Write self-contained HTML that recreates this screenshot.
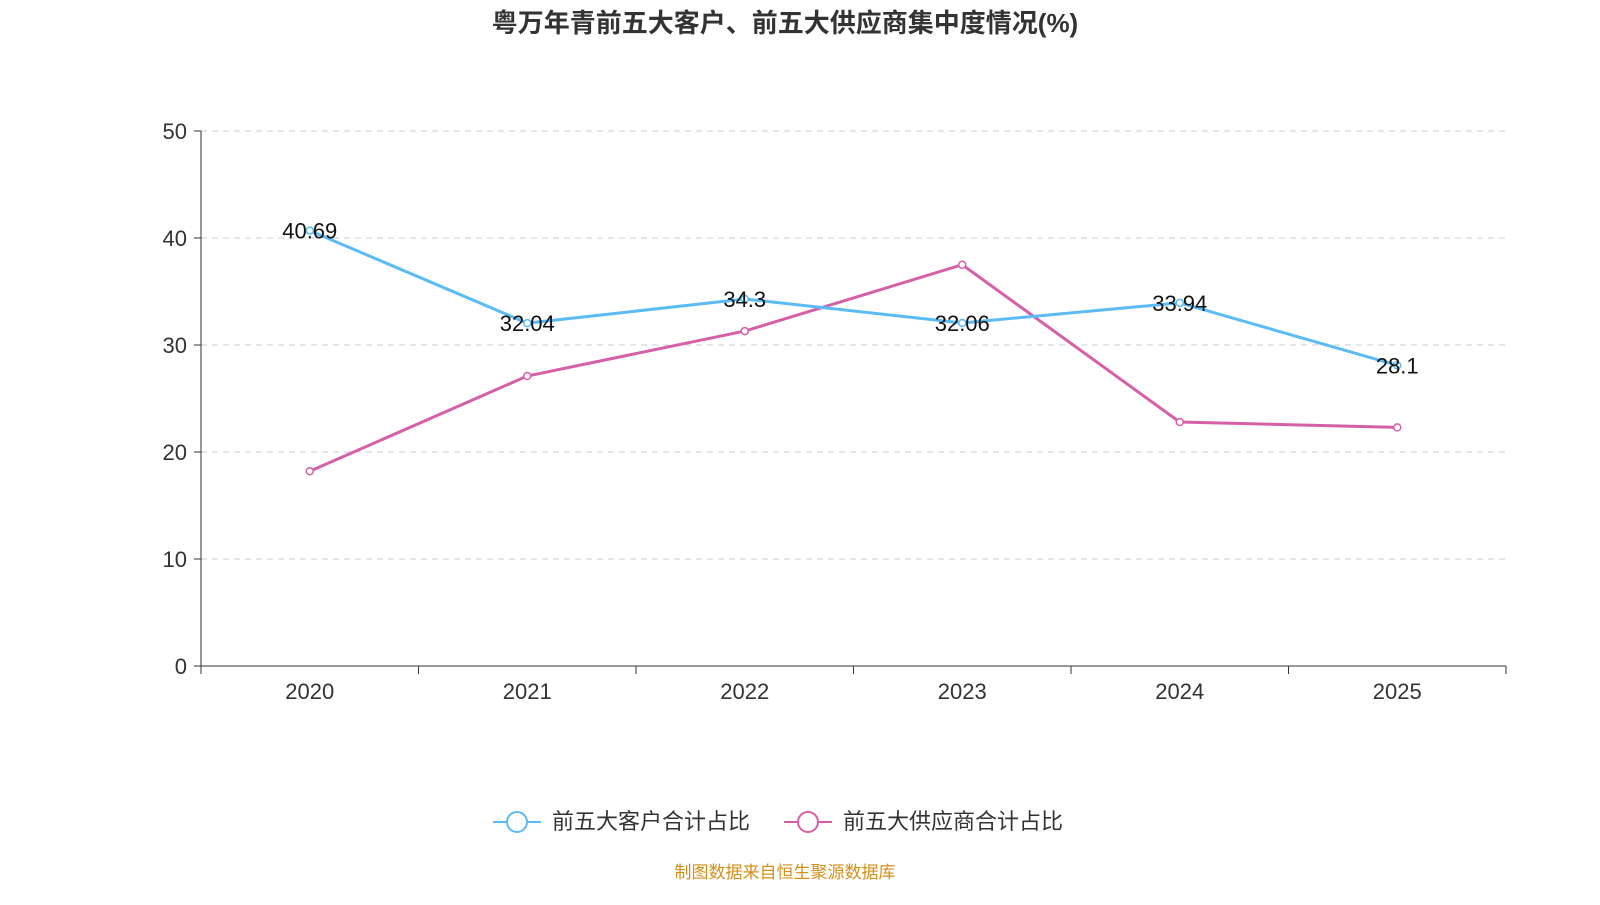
<!DOCTYPE html>
<html><head><meta charset="utf-8"><style>
body{margin:0;background:#fff;width:1600px;height:900px;overflow:hidden;font-family:"Liberation Sans","Noto Sans CJK SC",sans-serif}
</style></head><body>
<svg id="chart" width="1600" height="900" font-family="'Liberation Sans','Noto Sans CJK SC',sans-serif">
<text x="785" y="32" text-anchor="middle" font-size="26" font-weight="bold" fill="#333">粤万年青前五大客户、前五大供应商集中度情况(%)</text>
<g id="grid"></g><g id="axes"></g><g id="series"></g>
<g>
<g><line x1="493" y1="822" x2="541" y2="822" stroke="#5bbcf5" stroke-width="2"/><circle cx="517" cy="822" r="10" fill="#fff" stroke="#5bbcf5" stroke-width="2"/><text x="552" y="829" font-size="22" fill="#333">前五大客户合计占比</text></g>
<g><line x1="784" y1="822" x2="832" y2="822" stroke="#d660a8" stroke-width="2"/><circle cx="808" cy="822" r="10" fill="#fff" stroke="#d660a8" stroke-width="2"/><text x="843" y="829" font-size="22" fill="#333">前五大供应商合计占比</text></g>
</g>
<text x="785" y="878" text-anchor="middle" font-size="17" fill="#d4901a">制图数据来自恒生聚源数据库</text>
</svg>
<script>
const categories=["2020","2021","2022","2023","2024","2025"];
const customers=[40.69,32.04,34.3,32.06,33.94,28.1];
const suppliers=[18.2,27.1,31.3,37.5,22.8,22.3];
const yTicks=[0,10,20,30,40,50];
const NS="http://www.w3.org/2000/svg";
const x0=201,x1=1506,yB=666,yT=131;
const step=(x1-x0)/categories.length;
const xs=i=>x0+step*(i+0.5);
const ys=v=>yB-(v/50)*(yB-yT);
function mk(p,tag,at){const e=document.createElementNS(NS,tag);for(const k in at)e.setAttribute(k,at[k]);p.appendChild(e);return e;}
const grid=document.getElementById('grid'),axes=document.getElementById('axes'),ser=document.getElementById('series');
yTicks.forEach(t=>{const y=ys(t);
if(t>0){const g=mk(grid,'line',{x1:x0,x2:x1,y1:y,y2:y,stroke:'#ccc','stroke-dasharray':'6,5'});

}
mk(axes,'line',{x1:x0-7,x2:x0,y1:y,y2:y,stroke:'#333'});
const tx=mk(axes,'text',{x:x0-14,y:y+8,'text-anchor':'end','font-size':22,fill:'#333'});tx.textContent=t;

});
mk(axes,'line',{x1:x0,x2:x0,y1:yT,y2:yB,stroke:'#333'});
mk(axes,'line',{x1:x0,x2:x1,y1:yB,y2:yB,stroke:'#333'});
for(let i=0;i<=categories.length;i++){const x=x0+step*i;mk(axes,'line',{x1:x,x2:x,y1:yB,y2:yB+8,stroke:'#333'});}
categories.forEach((c,i)=>{const t=mk(axes,'text',{x:xs(i),y:699,'text-anchor':'middle','font-size':22,fill:'#333'});t.textContent=c;

});
function draw(vals,color,name,labels){
const pl=mk(ser,'polyline',{points:vals.map((v,i)=>xs(i)+','+ys(v)).join(' '),fill:'none',stroke:color,'stroke-width':3});


vals.forEach((v,i)=>{const c=mk(ser,'circle',{cx:xs(i),cy:ys(v),r:3.5,fill:'#fff',stroke:color,'stroke-width':1.5});


if(labels){const t=mk(ser,'text',{x:xs(i),y:ys(v)+8,'text-anchor':'middle','font-size':22,fill:'#111'});t.textContent=v;

}});}
draw(suppliers,'#d660a8','suppliers',false);
draw(customers,'#5bbcf5','customers',true);
</script>
</body></html>
